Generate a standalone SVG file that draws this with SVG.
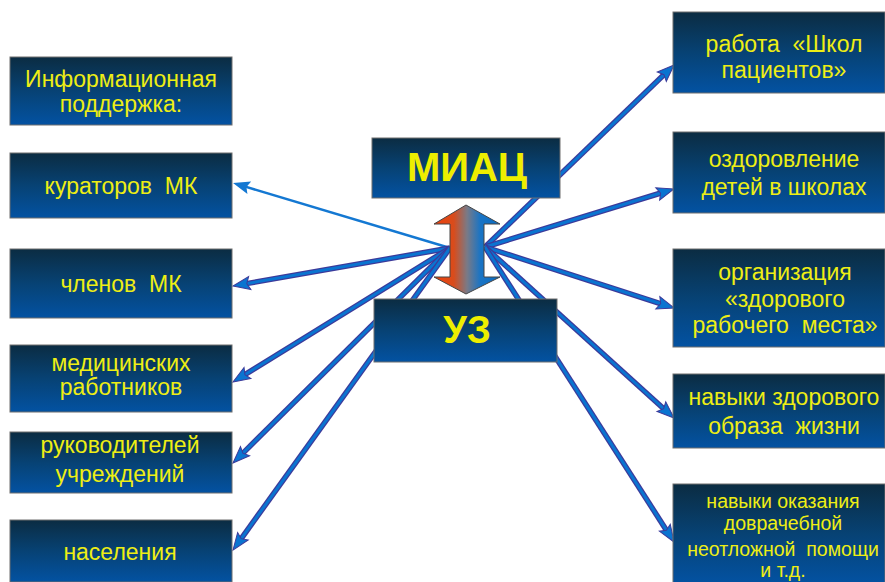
<svg xmlns="http://www.w3.org/2000/svg" width="885" height="582" viewBox="0 0 885 582">
<defs>
<linearGradient id="bg" x1="0" y1="0" x2="0" y2="1">
<stop offset="0" stop-color="#0b2c42"/>
<stop offset="0.5" stop-color="#074274"/>
<stop offset="1" stop-color="#0352a2"/>
</linearGradient>
<linearGradient id="ag" x1="434" y1="0" x2="500" y2="0" gradientUnits="userSpaceOnUse">
<stop offset="0" stop-color="#f0400a"/>
<stop offset="0.3" stop-color="#d84c1c"/>
<stop offset="0.5" stop-color="#7a7a86"/>
<stop offset="0.7" stop-color="#1a74c4"/>
<stop offset="1" stop-color="#0a6cc4"/>
</linearGradient>
<marker id="ah" markerUnits="userSpaceOnUse" markerWidth="30" markerHeight="30" viewBox="-10 -10 30 20" refX="0" refY="0" orient="auto" overflow="visible">
<path d="M12,0 L-5,-6.5 L-2,0 L-5,6.5 Z" fill="#0a74d0" stroke="#3c3a9a" stroke-width="1" stroke-linejoin="miter"/>
</marker>
<marker id="ah2" markerUnits="userSpaceOnUse" markerWidth="30" markerHeight="30" viewBox="-10 -10 30 20" refX="0" refY="0" orient="auto" overflow="visible">
<path d="M12,0 L-5,-6.5 L-2,0 L-5,6.5 Z" fill="#1478d2"/>
</marker>
</defs>
<style>
.box{fill:url(#bg);stroke:#6e6e6e;stroke-width:1}
.t{font-family:"Liberation Sans",Arial,sans-serif;font-size:23px;fill:#eeee14;text-anchor:middle}
.ts{font-size:19.5px}
.big{font-family:"Liberation Sans",Arial,sans-serif;font-weight:bold;fill:#eeee00;text-anchor:middle}
.co{stroke:#3c3a9a;stroke-width:5.5;fill:none}
.ci{stroke:#0a74d0;stroke-width:3;fill:none;marker-end:url(#ah)}
</style>
<rect width="885" height="582" fill="#ffffff"/>

<g id="connectors">
<line x1="450" y1="248" x2="244.5" y2="186.4" stroke="#1478d2" stroke-width="2.5" marker-end="url(#ah2)"/>
<line class="co" x1="450" y1="248" x2="244.8" y2="283.9"/>
<line class="ci" x1="450" y1="248" x2="244.8" y2="283.9"/>
<line class="co" x1="450" y1="248" x2="243.2" y2="375.7"/>
<line class="ci" x1="450" y1="248" x2="243.2" y2="375.7"/>
<line class="co" x1="450" y1="248" x2="241.5" y2="454.6"/>
<line class="ci" x1="450" y1="248" x2="241.5" y2="454.6"/>
<line class="co" x1="450" y1="248" x2="240.0" y2="540.3"/>
<line class="ci" x1="450" y1="248" x2="240.0" y2="540.3"/>
<line class="co" x1="485" y1="247" x2="665.4" y2="73.3"/>
<line class="ci" x1="485" y1="247" x2="665.4" y2="73.3"/>
<line class="co" x1="485" y1="247" x2="662.5" y2="192.5"/>
<line class="ci" x1="485" y1="247" x2="662.5" y2="192.5"/>
<line class="co" x1="485" y1="247" x2="662.6" y2="304.3" stroke-width="7"/>
<line class="ci" x1="485" y1="247" x2="662.6" y2="304.3" stroke-width="4.5"/>
<line class="co" x1="485" y1="247" x2="665.1" y2="410.0"/>
<line class="ci" x1="485" y1="247" x2="665.1" y2="410.0"/>
<line class="co" x1="485" y1="247" x2="667.5" y2="531.9"/>
<line class="ci" x1="485" y1="247" x2="667.5" y2="531.9"/>
</g>

<g id="info">
<rect class="box" x="10" y="57" width="222" height="68"/>
<text class="t" x="121" y="87">Информационная</text>
<text class="t" x="121" y="112">поддержка:</text>
</g>
<g id="kuratory">
<rect class="box" x="10" y="153" width="222" height="65"/>
<text class="t" x="121" y="194" xml:space="preserve">кураторов  МК</text>
</g>
<g id="chleny">
<rect class="box" x="10" y="249" width="222" height="69"/>
<text class="t" x="121" y="292" xml:space="preserve">членов  МК</text>
</g>
<g id="medrab">
<rect class="box" x="10" y="345" width="222" height="67"/>
<text class="t" x="121" y="371" font-size="20.5">медицинских</text>
<text class="t" x="121" y="395" font-size="20.5">работников</text>
</g>
<g id="ruk">
<rect class="box" x="10" y="432" width="222" height="61"/>
<text class="t" x="120" y="453">руководителей</text>
<text class="t" x="120" y="482">учреждений</text>
</g>
<g id="naselenie">
<rect class="box" x="10" y="520" width="222" height="62"/>
<text class="t" x="120" y="560">населения</text>
</g>

<g id="shkoly">
<rect class="box" x="673" y="12" width="212" height="81"/>
<text class="t" x="784" y="52" xml:space="preserve">работа  «Школ</text>
<text class="t" x="784" y="78">пациентов»</text>
</g>
<g id="ozdorov">
<rect class="box" x="673" y="132" width="212" height="81"/>
<text class="t" x="784" y="167">оздоровление</text>
<text class="t" x="784" y="195">детей в школах</text>
</g>
<g id="rabmesto">
<rect class="box" x="673" y="249" width="212" height="98"/>
<text class="t" x="785" y="280">организация</text>
<text class="t" x="785" y="307">«здорового</text>
<text class="t" x="785" y="333" xml:space="preserve">рабочего  места»</text>
</g>
<g id="navyki">
<rect class="box" x="673" y="374" width="212" height="74"/>
<text class="t" x="784" y="405">навыки здорового</text>
<text class="t" x="784" y="434" xml:space="preserve">образа  жизни</text>
</g>
<g id="pomosch">
<rect class="box" x="673" y="484" width="212" height="100"/>
<text class="t ts" x="783" y="508">навыки оказания</text>
<text class="t ts" x="783" y="530">доврачебной</text>
<text class="t ts" x="783" y="556" xml:space="preserve">неотложной  помощи</text>
<text class="t ts" x="783" y="577">и т.д.</text>
</g>

<g id="miac">
<rect class="box" x="372" y="138" width="188" height="60"/>
<text class="big" x="467" y="181" font-size="40">МИАЦ</text>
</g>
<g id="uz">
<rect class="box" x="374" y="299" width="183" height="63"/>
<text class="big" x="467" y="343" font-size="38">УЗ</text>
</g>
<g id="dblarrow">
<polygon points="466,205 500,224 484,224 484,277 500,277 466,294 434,277 450,277 450,224 434,224" fill="url(#ag)" stroke="#454545" stroke-width="1"/>
</g>
</svg>
